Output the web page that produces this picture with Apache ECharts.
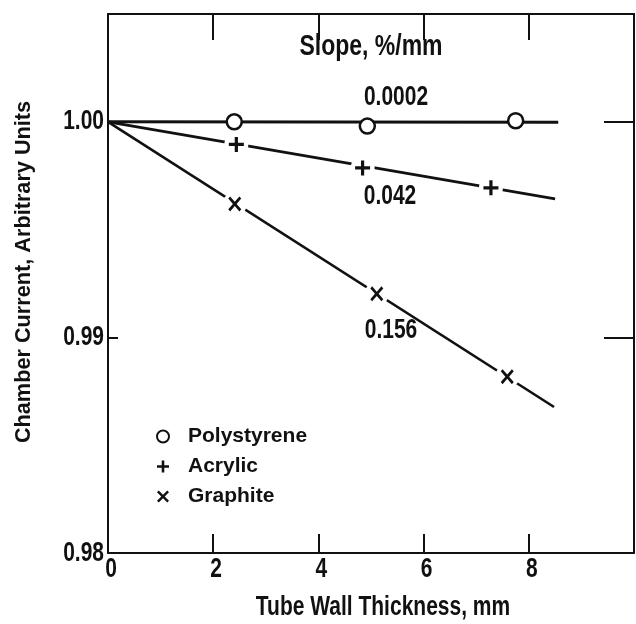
<!DOCTYPE html>
<html>
<head>
<meta charset="utf-8">
<script src="https://cdn.jsdelivr.net/npm/echarts@6/dist/echarts.min.js"></script>
<style>
  html, body { margin: 0; padding: 0; background: #fff; }
  #chart { width: 636px; height: 624px; }
</style>
</head>
<body>
<div id="chart"></div>
<script>
// Chamber current vs. tube wall thickness for three tube materials
const materials = ['Polystyrene', 'Acrylic', 'Graphite'];
const slopes = [0.0002, 0.042, 0.156];          // fitted slope, %/mm
const slopeLabels = ['0.0002', '0.042', '0.156'];
const fitEnds = [8.56, 8.50, 8.48];             // where each fit line stops, mm

const polyX = [2.40, 4.93, 7.75];
const polyY = [1.0000, 0.9998, 1.00005];
const acrylX = [2.44, 4.84, 7.28];
const acrylY = [0.99895, 0.99786, 0.99694];
const graphX = [2.41, 5.11, 7.59];
const graphY = [0.99619, 0.99202, 0.98818];

const xTicks = [0, 2, 4, 6, 8];
const yTicks = [0.98, 0.99, 1.00];

const FONT = '"Liberation Sans", Arial, Helvetica, sans-serif';
const INK = '#111';
const TALL = 1.3;   // narrow, tall lettering of the printed figure
const PLUS = 'path://M5.5,0H8.5V5.5H14V8.5H8.5V14H5.5V8.5H0V5.5H5.5Z';
const CROSS = 'path://M0,2L2,0L7,5L12,0L14,2L9,7L14,12L12,14L7,9L2,14L0,12L5,7Z';

const pairs = (xs, ys) => xs.map((x, i) => [x, ys[i]]);
// each fit line starts at 1.00 and falls by its slope (in % per mm)
const fitLine = i => [[0, 1.0], [fitEnds[i], 1.0 - slopes[i] * fitEnds[i] / 100]];

const chart = echarts.init(document.getElementById('chart'), null, { renderer: 'canvas' });

const axisLine = { show: true, onZero: false, lineStyle: { color: INK, width: 2 } };
const baseX = {
  type: 'value', min: 0, max: 10, interval: 2,
  axisLine: axisLine, splitLine: { show: false }, axisLabel: { show: false }
};
const baseY = {
  type: 'value', min: 0.98, max: 1.005, interval: 0.01,
  axisLine: axisLine, splitLine: { show: false }, axisLabel: { show: false }
};
const tick = (len) => ({ show: true, inside: true, length: len, lineStyle: { color: INK, width: 2 } });

const txt = (text, x, y, size, opts) => Object.assign({
  type: 'text', x: x, y: y, silent: true, scaleY: TALL,
  style: {
    text: text, fill: INK, align: 'center', verticalAlign: 'middle',
    font: 'bold ' + size + 'px ' + FONT
  }
}, opts || {});

const fit = (name, i, w) => ({
  type: 'line', name: name, data: fitLine(i), symbol: 'none', silent: true, z: 2,
  lineStyle: { color: INK, width: w }
});
const gap = (name, xs, ys) => ({
  type: 'scatter', name: name, data: pairs(xs, ys), symbol: 'circle', symbolSize: 24,
  silent: true, z: 3, itemStyle: { color: '#fff', opacity: 1 }
});
const marks = (i, xs, ys, symbol, size, style) => ({
  type: 'scatter', name: materials[i], data: pairs(xs, ys), symbol: symbol, symbolSize: size,
  symbolKeepAspect: false, z: 4, itemStyle: Object.assign({ color: INK, opacity: 1 }, style || {})
});

chart.setOption({
  animation: false,
  backgroundColor: '#fff',
  grid: { left: 108, right: 2, top: 14, bottom: 71, containLabel: false },
  xAxis: [
    Object.assign({}, baseX, { position: 'bottom', axisTick: tick(19) }),
    Object.assign({}, baseX, { position: 'top', axisTick: tick(26) })
  ],
  yAxis: [
    Object.assign({}, baseY, { position: 'left', axisTick: tick(10) }),
    Object.assign({}, baseY, { position: 'right', axisTick: tick(30) })
  ],
  legend: {
    orient: 'vertical', left: 151, top: 421, itemGap: 9,
    itemWidth: 12, itemHeight: 12,
    data: materials,
    textStyle: {
      color: INK, fontFamily: FONT, fontWeight: 'bold', fontSize: 21, lineHeight: 20,
      padding: [0, 0, 0, 14]
    }
  },
  series: [
    // fitted lines
    fit('fit-p', 0, 3),
    fit('fit-a', 1, 2.8),
    fit('fit-g', 2, 2.6),
    // white clearance around the cross marks
    gap('gap-a', acrylX, acrylY),
    gap('gap-g', graphX, graphY),
    // measured points
    marks(0, polyX, polyY, 'circle', 15, { color: '#fff', borderColor: INK, borderWidth: 2.5 }),
    marks(1, acrylX, acrylY, PLUS, 15),
    marks(2, graphX, graphY, CROSS, [13, 15])
  ]
});

// titles, slope annotations and tick labels, placed through the axis scales
const texts = [
  txt('Slope, %/mm', 371, 47, 23),
  txt(slopeLabels[0], 396, 97, 21),
  txt(slopeLabels[1], 390, 196, 21),
  txt(slopeLabels[2], 391, 330, 21),
  txt('Tube Wall Thickness, mm', 383, 607, 21),
  txt('Chamber Current, Arbitrary Units', 24, 272, 21.7, { rotation: Math.PI / 2, scaleY: 1 })
];
xTicks.forEach(v => {
  const p = chart.convertToPixel({ xAxisIndex: 0, yAxisIndex: 0 }, [v, 0.98]);
  texts.push(txt(String(v), p[0] + 3, p[1] + 16, 21));
});
yTicks.forEach(v => {
  const p = chart.convertToPixel({ xAxisIndex: 0, yAxisIndex: 0 }, [0, v]);
  texts.push(txt(v.toFixed(2), p[0] - 4, p[1], 21, {
    style: { text: v.toFixed(2), fill: INK, align: 'right', verticalAlign: 'middle', font: 'bold 21px ' + FONT }
  }));
});
chart.setOption({ graphic: texts });
</script>
</body>
</html>
